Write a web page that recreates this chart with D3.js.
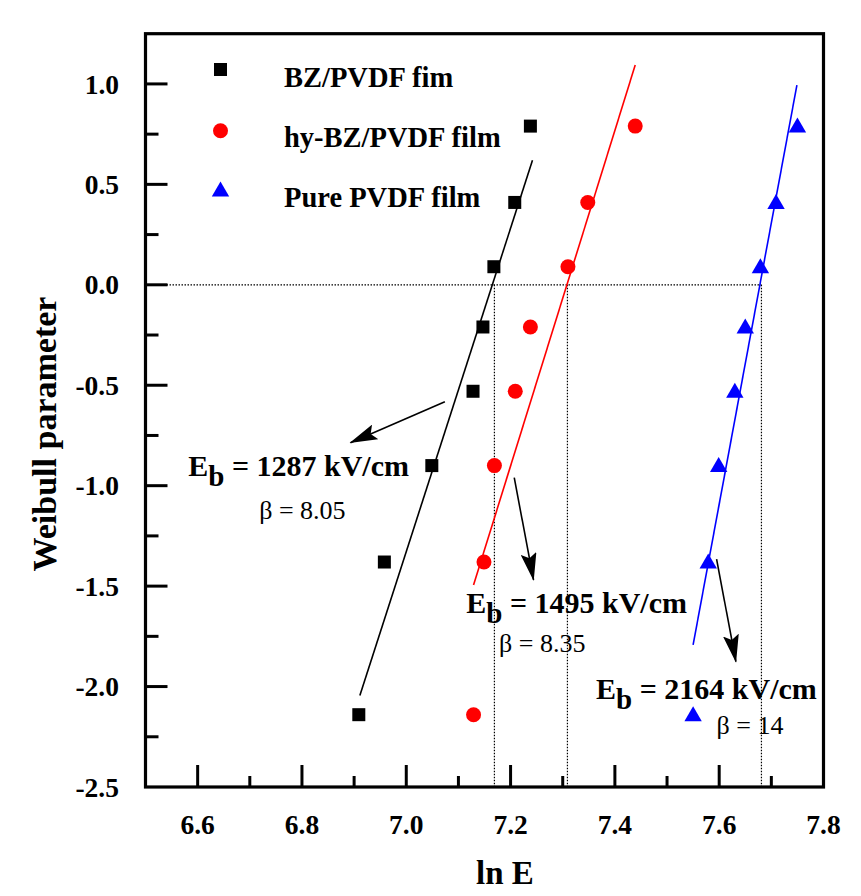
<!DOCTYPE html>
<html>
<head>
<meta charset="utf-8">
<script src="https://cdn.jsdelivr.net/npm/d3@7"></script>
<style>
html,body{margin:0;padding:0;background:#fff;}
svg{display:block;}
svg text{font-family:"Times New Roman","Liberation Serif",Times,"DejaVu Serif",serif;}
</style>
</head>
<body>
<svg id="chart" width="861" height="896"></svg>
<script>
// ---- data ----
const weibullY = [-2.14, -1.38, -0.90, -0.53, -0.21, 0.09, 0.41, 0.79];
const bzX     = [6.909, 6.958, 7.049, 7.128, 7.147, 7.168, 7.208, 7.238];
const hyBzX   = [7.129, 7.149, 7.169, 7.209, 7.238, 7.310, 7.348, 7.439];
const pureX   = [7.550, 7.579, 7.599, 7.630, 7.650, 7.679, 7.709, 7.750];
const seriesNames = ["BZ/PVDF fim", "hy-BZ/PVDF film", "Pure PVDF film"];
const seriesColors = ["#000000", "#ff0000", "#0000ff"];
const seriesShapes = ["square", "circle", "triangle"];
// Weibull fits: slope (beta), x-intercept (ln Eb), x range of the drawn line
const fitBeta = [8.05, 8.35, 14];
const fitX0   = [7.165, 7.308, 7.678];
const fitFrom = [6.911, 7.129, 7.550];
const fitTo   = [7.242, 7.439, 7.749];
const dropX   = [7.169, 7.309, 7.681];
const ebLabels = ["1287", "1495", "2164"];
const betaLabels = ["8.05", "8.35", "14"];
const xTicks = [6.6, 6.8, 7.0, 7.2, 7.4, 7.6, 7.8];
const yTicks = [-2.5, -2.0, -1.5, -1.0, -0.5, 0.0, 0.5, 1.0];

// ---- layout ----
const FONT = '"Times New Roman","Liberation Serif",Times,"DejaVu Serif",serif';
const svg = d3.select("#chart").attr("font-family", FONT);
const L = 145.5, R = 823.5, T = 33.7, B = 787;
const x = d3.scaleLinear().domain([6.5, 7.8]).range([L, R]);
const y = d3.scaleLinear().domain([-2.5, 1.25]).range([B, T]);

// annotation positions in data units
const ebPos   = [[6.582, -0.952], [7.115, -1.635], [7.364, -2.063]];
const betaPos = [[6.718, -1.166], [7.178, -1.826], [7.595, -2.236]];
const arrows  = [
  [[7.074, -0.582], [6.893, -0.786]],
  [[7.207, -0.960], [7.244, -1.469]],
  [[7.595, -1.366], [7.632, -1.876]]
];

// dotted reference lines
svg.append("line")
  .attr("x1", x(6.5)).attr("x2", x(d3.max(dropX)))
  .attr("y1", y(0)).attr("y2", y(0))
  .attr("stroke", "#000").attr("stroke-width", 1.2).attr("stroke-dasharray", "1.5,1.5");
svg.selectAll(".drop").data(dropX).join("line")
  .attr("x1", d => x(d)).attr("x2", d => x(d))
  .attr("y1", y(0)).attr("y2", y(-2.5))
  .attr("stroke", "#000").attr("stroke-width", 1.2).attr("stroke-dasharray", "1.5,1.5");

// fit lines
fitBeta.forEach((b, i) => {
  const f = xv => b * (xv - fitX0[i]);
  svg.append("line")
    .attr("x1", x(fitFrom[i])).attr("y1", y(f(fitFrom[i])))
    .attr("x2", x(fitTo[i])).attr("y2", y(f(fitTo[i])))
    .attr("stroke", seriesColors[i]).attr("stroke-width", 1.6);
});

// markers
function drawMarker(g, shape, cx, cy, color) {
  if (shape === "square") {
    g.append("rect").attr("x", cx - 6.5).attr("y", cy - 6.5)
      .attr("width", 13).attr("height", 13).attr("fill", color);
  } else if (shape === "circle") {
    g.append("circle").attr("cx", cx).attr("cy", cy).attr("r", 7.5).attr("fill", color);
  } else {
    g.append("path")
      .attr("d", `M${cx},${cy - 8.5}L${cx + 8.7},${cy + 6.5}L${cx - 8.7},${cy + 6.5}Z`)
      .attr("fill", color);
  }
}
const allX = [bzX, hyBzX, pureX];
const pts = svg.append("g");
allX.forEach((xs, i) => {
  xs.forEach((xv, j) => drawMarker(pts, seriesShapes[i], x(xv), y(weibullY[j]), seriesColors[i]));
});

// legend
const legY = [69.5, 130.7, 190];
const legTextY = [86.7, 146.7, 206.7];
seriesNames.forEach((n, i) => {
  drawMarker(svg, seriesShapes[i], 220.5, legY[i], seriesColors[i]);
  svg.append("text").attr("x", 284).attr("y", legTextY[i]).attr("font-family", FONT)
    .attr("font-size", 28.5).attr("font-weight", "bold").attr("fill", "#000").text(n);
});

// arrows
svg.append("defs").append("marker")
  .attr("id", "ah").attr("viewBox", "0 0 28 16").attr("refX", 27).attr("refY", 8)
  .attr("markerWidth", 28).attr("markerHeight", 16).attr("markerUnits", "userSpaceOnUse")
  .attr("orient", "auto")
  .append("path").attr("d", "M0,0L28,8L0,16L5,8Z").attr("fill", "#000");
arrows.forEach(a => {
  svg.append("line")
    .attr("x1", x(a[0][0])).attr("y1", y(a[0][1]))
    .attr("x2", x(a[1][0])).attr("y2", y(a[1][1]))
    .attr("stroke", "#000").attr("stroke-width", 1.6).attr("marker-end", "url(#ah)");
});

// annotation texts
ebLabels.forEach((v, i) => {
  const t = svg.append("text").attr("x", x(ebPos[i][0])).attr("y", y(ebPos[i][1]))
    .attr("font-family", FONT)
    .attr("font-size", 30).attr("font-weight", "bold").attr("fill", "#000");
  t.append("tspan").text("E");
  t.append("tspan").attr("dy", 10).attr("font-size", 29).text("b");
  t.append("tspan").attr("dy", -10).text(" = " + v + " kV/cm");
  svg.append("text").attr("x", x(betaPos[i][0])).attr("y", y(betaPos[i][1]))
    .attr("font-family", FONT)
    .attr("font-size", 26).attr("fill", "#000").text("β = " + betaLabels[i]);
});

// frame
svg.append("rect").attr("x", L).attr("y", T).attr("width", R - L).attr("height", B - T)
  .attr("fill", "none").attr("stroke", "#000").attr("stroke-width", 3.2);

// axes (inward ticks)
const gy = svg.append("g");
gy.selectAll("line").data(d3.range(-2.25, 1.01, 0.25)).join("line")
  .attr("x1", L).attr("x2", d => L + (Math.abs(d * 2 - Math.round(d * 2)) < 1e-6 ? 22 : 13))
  .attr("y1", d => y(d)).attr("y2", d => y(d))
  .attr("stroke", "#000").attr("stroke-width", 3);
gy.selectAll("text").data(yTicks).join("text")
  .attr("x", 119).attr("y", d => y(d)).attr("dy", "0.35em").attr("font-family", FONT)
  .attr("text-anchor", "end").attr("font-size", 27.5).attr("font-weight", "bold")
  .text(d => d.toFixed(1));

const gx = svg.append("g");
gx.selectAll("line").data(d3.range(6.6, 7.75, 0.1)).join("line")
  .attr("x1", d => x(d)).attr("x2", d => x(d))
  .attr("y1", B).attr("y2", (d, i) => B - (i % 2 === 0 ? 22 : 11))
  .attr("stroke", "#000").attr("stroke-width", 3);
gx.selectAll("text").data(xTicks).join("text")
  .attr("x", d => x(d)).attr("y", 834).attr("font-family", FONT)
  .attr("text-anchor", "middle").attr("font-size", 27.5).attr("font-weight", "bold")
  .text(d => d.toFixed(1));

// axis titles
svg.append("text").attr("x", 505).attr("y", 884).attr("text-anchor", "middle").attr("font-family", FONT)
  .attr("font-size", 33).attr("font-weight", "bold").text("ln E");
svg.append("text").attr("transform", "translate(56,434) rotate(-90)").attr("font-family", FONT)
  .attr("text-anchor", "middle").attr("font-size", 34).attr("font-weight", "bold")
  .text("Weibull parameter");
</script>
</body>
</html>
